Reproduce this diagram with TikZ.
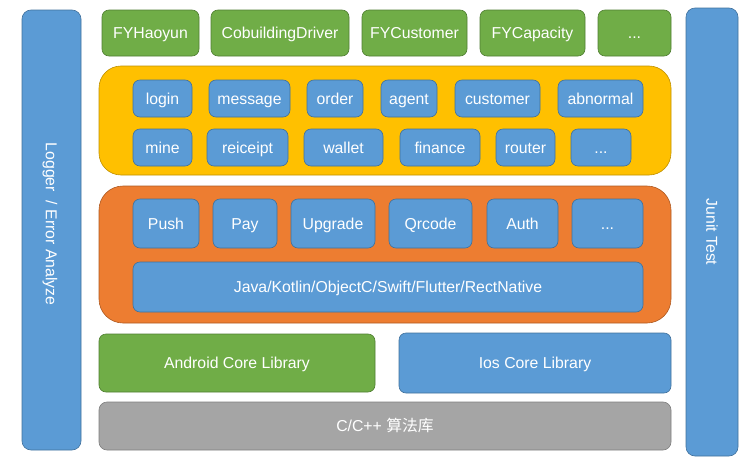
\documentclass[tikz,border=0pt]{standalone}
\usepackage{fontspec}
\setmainfont{Liberation Sans}
\newfontfamily\cjk{Noto Sans CJK SC}
\definecolor{cblue}{HTML}{5B9BD5}
\definecolor{cblueD}{HTML}{41719C}
\definecolor{cgreen}{HTML}{70AD47}
\definecolor{cgreenD}{HTML}{507E32}
\definecolor{cyellow}{HTML}{FFC000}
\definecolor{cyellowD}{HTML}{BF9000}
\definecolor{corange}{HTML}{ED7D31}
\definecolor{corangeD}{HTML}{AE5A21}
\definecolor{cgray}{HTML}{A5A5A5}
\definecolor{cgrayD}{HTML}{7F7F7F}
\newcommand\mybox[7]{\node[#6, minimum width={(#4-#2)*1pt}, minimum height={(#5-#3)*1pt}] (#1) at ({(#2+#4)/2},{(#3+#5)/2}) {#7};}
\tikzset{
  base/.style={inner sep=0pt, outer sep=0pt, text=white, line width=0.6pt, font=\fontsize{15.8}{18}\selectfont, text height=13pt, text depth=1.8pt},
  bluebox/.style={base, fill=cblue, draw=cblueD, rounded corners=7pt},
  greenbox/.style={base, fill=cgreen, draw=cgreenD, rounded corners=7pt},
  yellowbg/.style={base, fill=cyellow, draw=cyellowD, rounded corners=22pt},
  orangebg/.style={base, fill=corange, draw=corangeD, rounded corners=24pt},
  graybox/.style={base, fill=cgray, draw=cgrayD, rounded corners=8pt},
  sidebar/.style={base, fill=cblue, draw=cblueD, rounded corners=9pt},
}
\begin{document}
\begin{tikzpicture}[x=1pt,y=-1pt]
\useasboundingbox (0,0) rectangle (755,463);
% side bars
\mybox{logger}{22}{10}{81}{450}{sidebar}{}
\node[base, rotate=-90] (loggertxt) at (51.5,224) {Logger\ \ / Error Analyze};
\mybox{junit}{686}{8}{738}{456}{sidebar}{}
\node[base, rotate=-90] (junittxt) at (712,232) {Junit Test};
% top apps
\mybox{fyh}{102}{10}{199}{56}{greenbox}{FYHaoyun}
\mybox{cob}{211}{10}{349}{56}{greenbox}{CobuildingDriver}
\mybox{fyc}{362}{10}{467}{56}{greenbox}{FYCustomer}
\mybox{fycap}{480}{10}{585}{56}{greenbox}{FYCapacity}
\mybox{appmore}{598}{10}{671}{56}{greenbox}{...}
% business modules
\mybox{biz}{99}{66}{671}{175}{yellowbg}{}
\mybox{login}{133}{80}{192}{117}{bluebox}{login}
\mybox{message}{209}{80}{290}{117}{bluebox}{message}
\mybox{order}{307}{80}{363}{117}{bluebox}{order}
\mybox{agent}{381}{80}{437}{117}{bluebox}{agent}
\mybox{customer}{455}{80}{540}{117}{bluebox}{customer}
\mybox{abnormal}{558}{80}{643}{117}{bluebox}{abnormal}
\mybox{mine}{133}{129}{192}{166}{bluebox}{mine}
\mybox{reiceipt}{207}{129}{288}{166}{bluebox}{reiceipt}
\mybox{wallet}{304}{129}{383}{166}{bluebox}{wallet}
\mybox{finance}{400}{129}{480}{166}{bluebox}{finance}
\mybox{router}{496}{129}{555}{166}{bluebox}{router}
\mybox{bizmore}{571}{129}{631}{166}{bluebox}{...}
% base components
\mybox{comp}{99}{186}{671}{323}{orangebg}{}
\mybox{push}{133}{199}{199}{248}{bluebox}{Push}
\mybox{pay}{213}{199}{277}{248}{bluebox}{Pay}
\mybox{upgrade}{291}{199}{375}{248}{bluebox}{Upgrade}
\mybox{qrcode}{389}{199}{472}{248}{bluebox}{Qrcode}
\mybox{auth}{487}{199}{558}{248}{bluebox}{Auth}
\mybox{compmore}{572}{199}{643}{248}{bluebox}{...}
\mybox{lang}{133}{262}{643}{312}{bluebox}{Java/Kotlin/ObjectC/Swift/Flutter/RectNative}
% core libraries
\mybox{android}{99}{334}{375}{392}{greenbox}{Android Core Library}
\mybox{ios}{399}{333}{671}{393}{bluebox}{Ios Core Library}
\mybox{algo}{99}{402}{671}{450}{graybox}{C/C++ {\cjk 算法库}}
\end{tikzpicture}
\end{document}
